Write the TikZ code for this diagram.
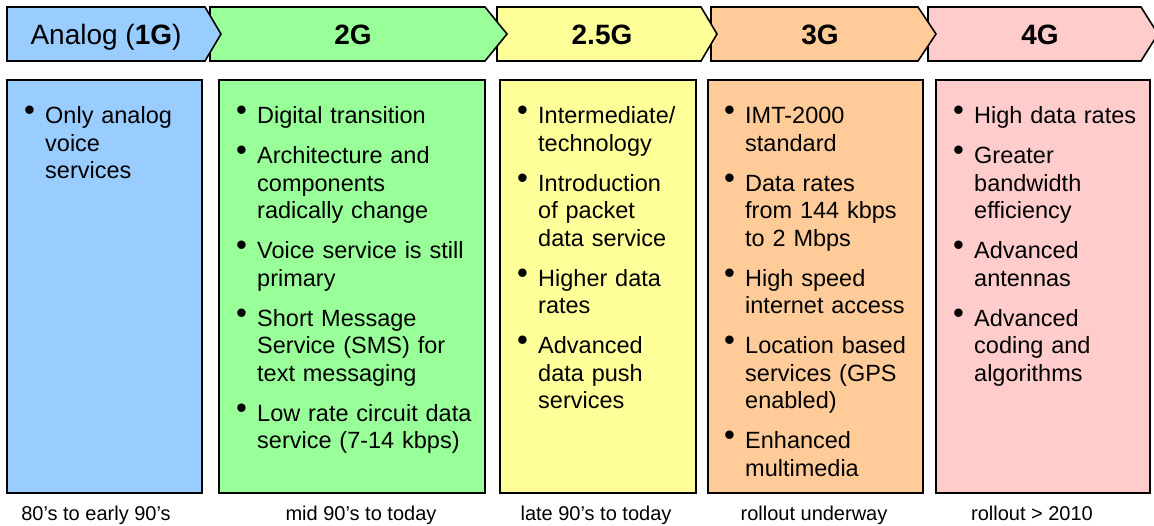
\documentclass[tikz,border=0pt]{standalone}
\usepackage{fontspec}
\setmainfont{Liberation Sans}
\usepackage{enumitem}
\usepackage{tikz}
\usetikzlibrary{positioning}

\definecolor{analogblue}{HTML}{99CCFF}
\definecolor{twoggreen}{HTML}{99FF99}
\definecolor{halfyellow}{HTML}{FFFF99}
\definecolor{threeorange}{HTML}{FFCC99}
\definecolor{fourpink}{HTML}{FFCCCC}

\setlist[itemize]{label=\raisebox{3pt}{\fontsize{31}{31}\selectfont\textbullet}, leftmargin=21pt,
  labelwidth=21pt, labelsep=0pt, align=left, topsep=0pt, partopsep=0pt, parsep=0pt, itemsep=12.5pt}

\tikzset{
    phase/.style = {draw=black, line width=1.6pt, line join=miter},
    column/.style = {draw=black, line width=1.6pt},
    phasetext/.style = {anchor=base, inner sep=0pt, font=\fontsize{28}{30}\selectfont},
    items/.style = {anchor=base west, inner sep=0pt, text width=250pt, align=left,
                    font=\fontsize{23.5}{27.5}\selectfont},
    era/.style = {anchor=base, inner sep=0pt, font=\fontsize{20}{22}\selectfont},
}

\begin{document}
\begin{tikzpicture}[x=1pt, y=-1pt]
\useasboundingbox (0,0) rectangle (1154,525);
% phase arrows, drawn right to left so each tip lies on the next one
\draw[phase, fill=fourpink] (928,7) -- (1141,7) -- (1158,34) -- (1141,61) -- (928,61) -- cycle;
\draw[phase, fill=threeorange] (711,7) -- (918,7) -- (936,34) -- (918,61) -- (711,61) -- cycle;
\draw[phase, fill=halfyellow] (497,7) -- (701,7) -- (717,34) -- (701,61) -- (497,61) -- cycle;
\draw[phase, fill=twoggreen] (210,7) -- (485,7) -- (507,34) -- (485,61) -- (210,61) -- cycle;
\draw[phase, fill=analogblue] (7,7) -- (205,7) -- (221,34) -- (205,61) -- (7,61) -- cycle;
\node[phasetext] at (106,44) (h1) {Analog (\textbf{1G})};
\node[phasetext] at (353,44) (h2) {\textbf{2G}};
\node[phasetext] at (602,44) (h3) {\textbf{2.5G}};
\node[phasetext] at (820,44) (h4) {\textbf{3G}};
\node[phasetext] at (1040,44) (h5) {\textbf{4G}};
%
\draw[column, fill=analogblue] (7,80) rectangle (202,493);
\draw[column, fill=twoggreen] (219,80) rectangle (485,493);
\draw[column, fill=halfyellow] (500,80) rectangle (696,493);
\draw[column, fill=threeorange] (708,80) rectangle (923,493);
\draw[column, fill=fourpink] (936,80) rectangle (1150,493);
%
\node[items] at (24,96) (l1) {\begin{itemize}
  \item Only analog\newline voice\newline services
\end{itemize}};
\node[items] at (236,96) (l2) {\begin{itemize}
  \item Digital transition
  \item Architecture and\newline components\newline radically change
  \item Voice service is still\newline primary
  \item Short Message\newline Service (SMS) for\newline text messaging
  \item Low rate circuit data\newline service (7-14 kbps)
\end{itemize}};
\node[items] at (517,96) (l3) {\begin{itemize}
  \item Intermediate/\newline technology
  \item Introduction\newline of packet\newline data service
  \item Higher data\newline rates
  \item Advanced\newline data push\newline services
\end{itemize}};
\node[items] at (724,96) (l4) {\begin{itemize}
  \item IMT-2000\newline standard
  \item Data rates\newline from 144 kbps\newline to 2 Mbps
  \item High speed\newline internet access
  \item Location based\newline services (GPS\newline enabled)
  \item Enhanced\newline multimedia
\end{itemize}};
\node[items] at (953,96) (l5) {\begin{itemize}
  \item High data rates
  \item Greater\newline bandwidth\newline efficiency
  \item Advanced\newline antennas
  \item Advanced\newline coding and\newline algorithms
\end{itemize}};
%
\node[era] at (96,520) (e1) {80’s to early 90’s};
\node[era] at (361,520) (e2) {mid 90’s to today};
\node[era] at (596,520) (e3) {late 90’s to today};
\node[era] at (814,520) (e4) {rollout underway};
\node[era] at (1032,520) (e5) {rollout > 2010};
\end{tikzpicture}
\end{document}
